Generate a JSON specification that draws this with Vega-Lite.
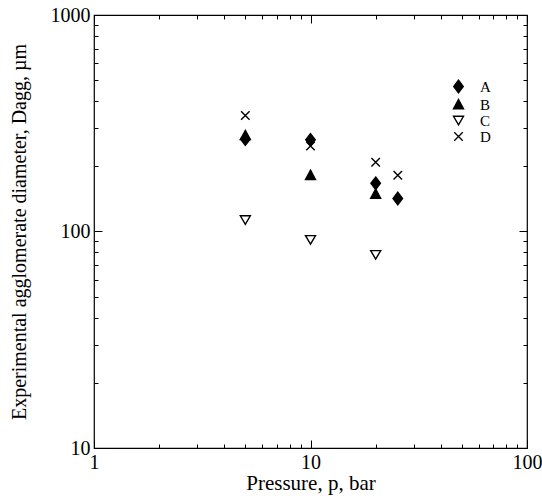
{
  "$schema": "https://vega.github.io/schema/vega-lite/v6.json",
  "autosize": "none",
  "width": 433,
  "height": 433,
  "padding": {"left": 94, "top": 15, "right": 15, "bottom": 51},
  "background": "white",
  "config": {
    "font": "Liberation Serif",
    "view": {"stroke": "black", "strokeWidth": 1.2},
    "legend": {"labelFont": "Liberation Serif", "titleFont": "Liberation Serif"},
    "axis": {
      "domain": false,
      "grid": false,
      "labelFont": "Liberation Serif",
      "titleFont": "Liberation Serif",
      "labelColor": "black",
      "titleColor": "black",
      "tickColor": "black",
      "tickWidth": 1,
      "labelFontSize": 20,
      "titleFontSize": 21,
      "titleFontWeight": "normal",
      "labelFlush": false,
      "labelOverlap": false
    }
  },
  "data": {
    "values": [
      {"p": 5, "d": 343, "series": "D"},
      {"p": 10, "d": 248, "series": "D"},
      {"p": 20, "d": 209, "series": "D"},
      {"p": 25.3, "d": 182, "series": "D"},
      {"p": 5, "d": 113, "series": "C"},
      {"p": 10, "d": 91.5, "series": "C"},
      {"p": 20, "d": 78, "series": "C"},
      {"p": 5, "d": 278, "series": "B"},
      {"p": 10, "d": 182, "series": "B"},
      {"p": 20, "d": 149, "series": "B"},
      {"p": 5, "d": 267, "series": "A"},
      {"p": 10, "d": 265, "series": "A"},
      {"p": 20, "d": 167, "series": "A"},
      {"p": 25.3, "d": 142, "series": "A"}
    ]
  },
  "layer": [
    {
      "mark": {"type": "point", "opacity": 0},
      "encoding": {
        "x": {
          "field": "p", "type": "quantitative",
          "scale": {"type": "log", "domain": [1, 100], "nice": false},
          "axis": {"title": null, "labels": false, "tickSize": -4, "values": [2,3,4,5,6,7,8,9,20,30,40,50,60,70,80,90]}
        },
        "y": {
          "field": "d", "type": "quantitative",
          "scale": {"type": "log", "domain": [10, 1000], "nice": false},
          "axis": {"title": null, "labels": false, "tickSize": -4, "values": [20,30,40,50,60,70,80,90,200,300,400,500,600,700,800,900]}
        }
      }
    },
    {
      "mark": {"type": "point", "opacity": 0},
      "encoding": {
        "x": {
          "field": "p", "type": "quantitative",
          "scale": {"type": "log", "domain": [1, 100], "nice": false},
          "axis": {"orient": "top", "title": null, "labels": false, "tickSize": -8, "values": [1, 10, 100]}
        },
        "y": {
          "field": "d", "type": "quantitative",
          "scale": {"type": "log", "domain": [10, 1000], "nice": false},
          "axis": {"orient": "right", "title": null, "labels": false, "tickSize": -8, "values": [10, 100, 1000]}
        }
      }
    },
    {
      "mark": {"type": "point", "opacity": 0},
      "encoding": {
        "x": {
          "field": "p", "type": "quantitative",
          "scale": {"type": "log", "domain": [1, 100], "nice": false},
          "axis": {"orient": "top", "title": null, "labels": false, "tickSize": -4, "values": [2,3,4,5,6,7,8,9,20,30,40,50,60,70,80,90]}
        },
        "y": {
          "field": "d", "type": "quantitative",
          "scale": {"type": "log", "domain": [10, 1000], "nice": false},
          "axis": {"orient": "right", "title": null, "labels": false, "tickSize": -4, "values": [20,30,40,50,60,70,80,90,200,300,400,500,600,700,800,900]}
        }
      }
    },
    {
      "mark": {"type": "point", "filled": false, "strokeWidth": 1.4, "size": 100, "opacity": 1},
      "encoding": {
        "x": {
          "field": "p", "type": "quantitative",
          "scale": {"type": "log", "domain": [1, 100], "nice": false},
          "title": "Pressure, p, bar",
          "axis": {
            "values": [1, 10, 100],
            "format": "d",
            "tickSize": -8,
            "labelPadding": 12,
            "titlePadding": 0,
            "titleFont": "Liberation Serif",
            "titleFontSize": 21
          }
        },
        "y": {
          "field": "d", "type": "quantitative",
          "scale": {"type": "log", "domain": [10, 1000], "nice": false},
          "title": "Experimental agglomerate diameter, Dagg, µm",
          "axis": {
            "values": [10, 100, 1000],
            "format": "d",
            "tickSize": -8,
            "labelPadding": 12,
            "titlePadding": 21,
            "titleFont": "Liberation Serif",
            "titleFontSize": 20
          }
        },
        "shape": {
          "field": "series", "type": "nominal",
          "scale": {
            "domain": ["A", "B", "C", "D"],
            "range": [
              "M0,-1.25L0.95,0L0,1.25L-0.95,0Z",
              "M0,-1L1,0.85L-1,0.85Z",
              "M-1,-0.85L1,-0.85L0,0.85Z",
              "M-0.85,-0.85L0.85,0.85M0.85,-0.85L-0.85,0.85"
            ]
          },
          "legend": {
            "title": null,
            "orient": "none",
            "legendX": 357,
            "legendY": 64,
            "labelFont": "Liberation Serif",
            "labelFontSize": 15,
            "labelColor": "black",
            "labelOffset": 14,
            "rowPadding": 0,
            "symbolSize": 100,
            "symbolStrokeWidth": 1.4
          }
        },
        "fill": {
          "field": "series", "type": "nominal",
          "scale": {"domain": ["A", "B", "C", "D"], "range": ["black", "black", "white", "transparent"]},
          "legend": {
            "title": null,
            "orient": "none",
            "legendX": 357,
            "legendY": 64,
            "labelFont": "Liberation Serif",
            "labelFontSize": 15,
            "labelColor": "black",
            "labelOffset": 14,
            "rowPadding": 0,
            "symbolSize": 100,
            "symbolStrokeWidth": 1.4
          }
        },
        "stroke": {
          "field": "series", "type": "nominal",
          "scale": {"domain": ["A", "B", "C", "D"], "range": ["black", "black", "black", "black"]},
          "legend": {
            "title": null,
            "orient": "none",
            "legendX": 357,
            "legendY": 64,
            "labelFont": "Liberation Serif",
            "labelFontSize": 15,
            "labelColor": "black",
            "labelOffset": 14,
            "rowPadding": 0,
            "symbolSize": 100,
            "symbolStrokeWidth": 1.4
          }
        }
      }
    }
  ],
  "resolve": {"axis": {"x": "independent", "y": "independent"}}
}
